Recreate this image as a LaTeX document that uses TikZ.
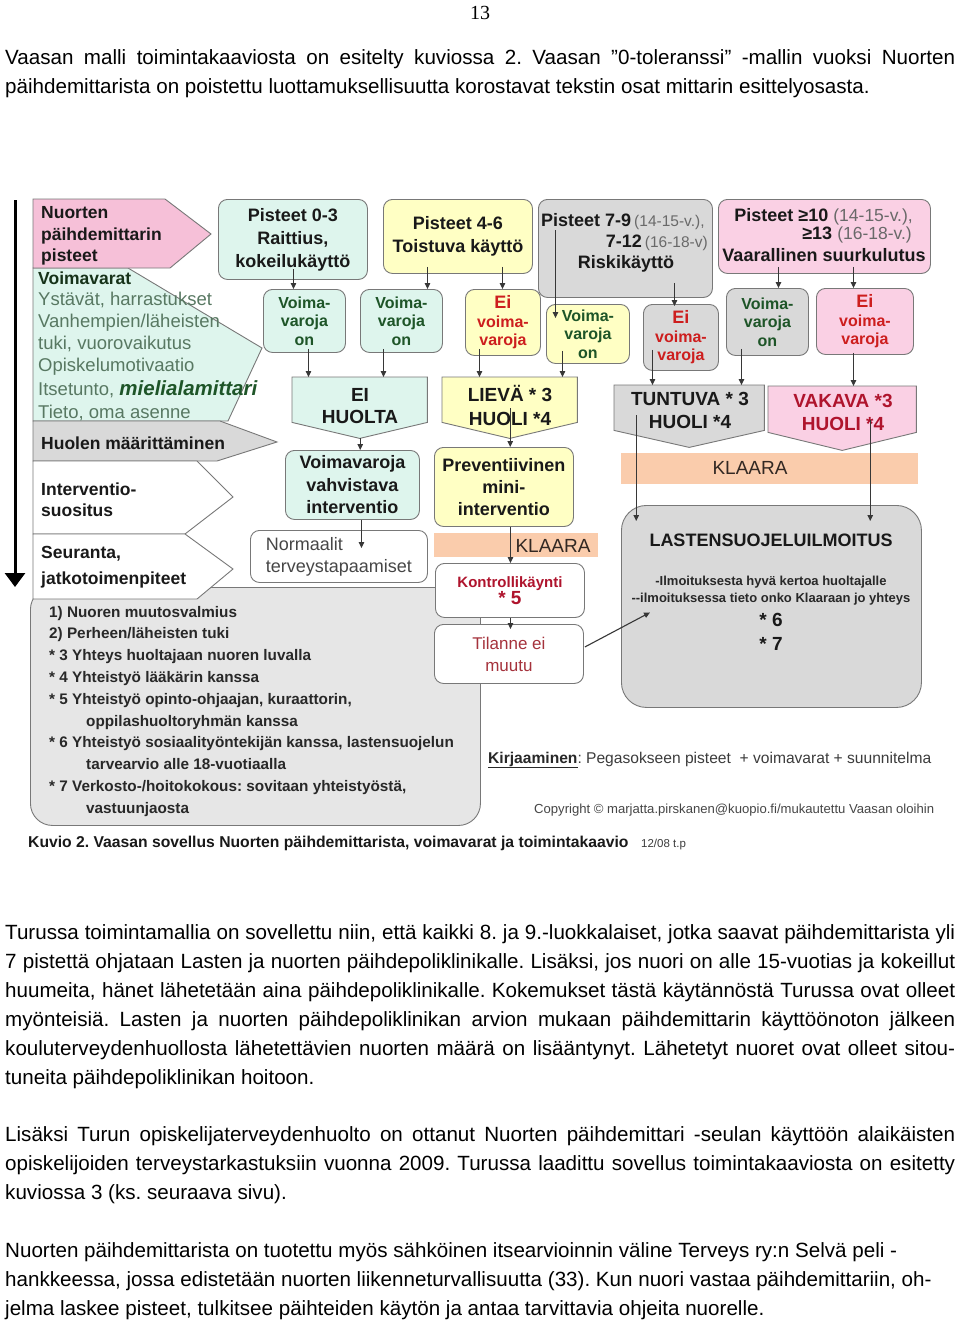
\documentclass[tikz,border=0pt]{standalone}
\usepackage{fontspec}
\setmainfont{Liberation Sans}
\newfontfamily\pagenumfont{Liberation Serif}
\usetikzlibrary{arrows.meta,calc}
\newcommand\myfs[2]{\fontsize{#1pt}{#2pt}\selectfont}
\frenchspacing
\definecolor{mint}{RGB}{222,245,237}
\definecolor{lyellow}{RGB}{255,255,196}
\definecolor{lgray}{RGB}{217,217,217}
\definecolor{lgrayB}{RGB}{230,230,230}
\definecolor{pinkA}{RGB}{246,192,216}
\definecolor{pinkB}{RGB}{250,208,228}
\definecolor{peach}{RGB}{250,204,172}
\definecolor{bordergray}{RGB}{120,120,120}
\definecolor{arrowgray}{RGB}{55,55,55}
\definecolor{dgreen}{RGB}{30,85,40}
\definecolor{grtext}{RGB}{88,120,98}
\definecolor{vvhead}{RGB}{22,50,25}
\definecolor{eired}{RGB}{205,30,30}
\definecolor{dred}{RGB}{175,20,45}
\definecolor{tilred}{RGB}{165,50,60}
\definecolor{txt}{RGB}{25,25,25}
\definecolor{partgray}{RGB}{105,105,105}
\definecolor{listtext}{RGB}{40,40,40}
\begin{document}
\begin{tikzpicture}[x=1pt,y=-1pt,
  body/.style={anchor=base west, inner sep=0pt, font=\myfs{20.6}{29}},
  rbox/.style={draw=bordergray, line width=0.9pt, rounded corners=9pt, anchor=north west, inner sep=0pt, align=center, text=txt},
  vbox/.style={rbox, font=\myfs{16}{18.5}\bfseries},
  arr/.style={draw=arrowgray, line width=1.1pt, -{Triangle[length=6pt,width=5.5pt]}},
  shp/.style={draw=bordergray, line width=0.9pt},
  lt/.style={anchor=base west, inner sep=0pt},
  ct/.style={anchor=base, inner sep=0pt},
  pentb/.style={minimum width=#1, anchor=north west, inner sep=0pt},
  lst/.style={anchor=base west, inner sep=0pt, font=\myfs{15.3}{18}\bfseries, text=listtext},
  lhead/.style={anchor=base west, inner sep=0pt, font=\myfs{17.5}{21}\bfseries, text=txt},
  vvl/.style={anchor=base west, inner sep=0pt, font=\myfs{18.5}{22}, text=grtext},
]
\useasboundingbox (0,0) rectangle (960,1323);
\fill[white] (0,0) rectangle (960,1323);

% page number
\node[ct, font=\pagenumfont\myfs{20}{24}] (pnum) at (480,19) {13};

% top paragraph
\node[body] (b1) at (5,64) {\makebox[950pt][s]{Vaasan malli toimintakaaviosta on esitelty kuviossa 2. Vaasan ”0-toleranssi” -mallin vuoksi Nuorten}};
\node[body] (b2) at (5,93) {päihdemittarista on poistettu luottamuksellisuutta korostavat tekstin osat mittarin esittelyosasta.};

% ---------------- diagram ----------------
% bottom-left list box
\node[draw=bordergray, line width=0.9pt, fill=lgrayB, rounded corners=22pt, minimum width=450pt, minimum height=238pt, anchor=north west, inner sep=0pt] (listbox) at (30,587) {};

% left column shapes
\filldraw[shp, fill=mint] (33,268) -- (128,268) -- (262,348) -- (228,421) -- (33,421) -- cycle;
\filldraw[shp, fill=pinkA] (33,199) -- (165,199) -- (211,234) -- (170,268) -- (33,268) -- cycle;
\filldraw[shp, fill=lgray] (33,421) -- (220,421) -- (277,442) -- (217,461) -- (33,461) -- cycle;
\filldraw[shp, fill=white] (33,461) -- (197,461) -- (233,497) -- (185,534) -- (33,534) -- cycle;
\filldraw[shp, fill=white] (33,534) -- (185,534) -- (233,569) -- (197,599) -- (33,599) -- cycle;

% left column texts
\node[lhead] (nu1) at (41,218) {Nuorten};
\node[lhead] (nu2) at (41,240) {päihdemittarin};
\node[lhead] (nu3) at (41,261) {pisteet};
\node[lhead, text=vvhead] (vv0) at (38,284) {Voimavarat};
\node[vvl] (vv1) at (38,305) {Ystävät, harrastukset};
\node[vvl] (vv2) at (38,327) {Vanhempien/läheisten};
\node[vvl] (vv3) at (38,349) {tuki, vuorovaikutus};
\node[vvl] (vv4) at (38,371) {Opiskelumotivaatio};
\node[vvl] (vv5) at (38,395) {Itsetunto, {\color{dgreen}\myfs{20.5}{22}\bfseries\itshape mielialamittari}};
\node[vvl] (vv6) at (38,418) {Tieto, oma asenne};
\node[lhead] (huo) at (41,449) {Huolen määrittäminen};
\node[lhead] (int1) at (41,495) {Interventio-};
\node[lhead] (int2) at (41,516) {suositus};
\node[lhead] (seu1) at (41,558) {Seuranta,};
\node[lhead] (seu2) at (41,584) {jatkotoimenpiteet};

% left time arrow
\coordinate (ltop) at (15,200);
\coordinate (lbot) at (15,587);
\draw[line width=3pt, -{Triangle[length=14pt,width=20pt]}] (ltop) -- (lbot);

% list text
\node[lst] (l1) at (49,617) {1) Nuoren muutosvalmius};
\node[lst] (l2) at (49,638.8) {2) Perheen/läheisten tuki};
\node[lst] (l3) at (49,660.6) {* 3 Yhteys huoltajaan nuoren luvalla};
\node[lst] (l4) at (49,682.4) {* 4 Yhteistyö lääkärin kanssa};
\node[lst] (l5) at (49,704.2) {* 5 Yhteistyö opinto-ohjaajan, kuraattorin,};
\node[lst] (l6) at (86,726) {oppilashuoltoryhmän kanssa};
\node[lst] (l7) at (49,747.8) {* 6 Yhteistyö sosiaalityöntekijän kanssa, lastensuojelun};
\node[lst] (l8) at (86,769.6) {tarvearvio alle 18-vuotiaalla};
\node[lst] (l9) at (49,791.4) {* 7 Verkosto-/hoitokokous: sovitaan yhteistyöstä,};
\node[lst] (l10) at (86,813.2) {vastuunjaosta};

% top score boxes
\node[rbox, fill=mint, minimum width=149pt, minimum height=80pt, font=\myfs{18}{23}\bfseries] (p03) at (218,199) {Pisteet 0-3\\Raittius,\\kokeilukäyttö};
\node[rbox, fill=lyellow, minimum width=149pt, minimum height=74pt, font=\myfs{18}{23}\bfseries] (p46) at (383,199) {Pisteet 4-6\\Toistuva käyttö};
\node[rbox, fill=lgray, minimum width=174pt, minimum height=98pt] (p79) at (538,199) {};
\node[anchor=base west, inner sep=0pt, font=\myfs{18}{22}\bfseries, text=txt] (p79a) at (541,226) {Pisteet 7-9\,{\mdseries\myfs{15.5}{18}\color{partgray}(14-15-v.),}};
\node[anchor=base east, inner sep=0pt, font=\myfs{18}{22}\bfseries, text=txt] (p79b) at (708,247) {7-12\,{\mdseries\myfs{15.5}{18}\color{partgray}(16-18-v)}};
\node[ct, font=\myfs{18}{22}\bfseries, text=txt] (p79c) at (626,268) {Riskikäyttö};
\node[rbox, fill=pinkB, minimum width=212pt, minimum height=74pt] (p10) at (718,199) {};
\node[anchor=base east, inner sep=0pt, font=\myfs{18}{22}\bfseries, text=txt] (p10a) at (913,221) {Pisteet ≥10 {\mdseries\myfs{17.5}{18}\color{partgray}(14-15-v.),}};
\node[anchor=base east, inner sep=0pt, font=\myfs{18}{22}\bfseries, text=txt] (p10b) at (912,239) {≥13 {\mdseries\myfs{17.5}{18}\color{partgray}(16-18-v.)}};
\node[ct, font=\myfs{18}{22}\bfseries, text=txt] (p10c) at (824,261) {Vaarallinen suurkulutus};

% voimavarat boxes
\node[vbox, fill=mint, minimum width=82pt, minimum height=63pt, text=dgreen] (v1) at (263,289) {Voima-\\varoja\\on};
\node[vbox, fill=mint, minimum width=82pt, minimum height=63pt, text=dgreen] (v2) at (360,289) {Voima-\\varoja\\on};
\node[vbox, fill=lyellow, minimum width=75pt, minimum height=66pt, text=eired] (v3) at (465,289) {{\myfs{18}{18.5}Ei}\\voima-\\varoja};
\node[vbox, fill=lyellow, minimum width=83pt, minimum height=59pt, text=dgreen] (v4) at (546,304) {Voima-\\varoja\\on};
\node[vbox, fill=lgray, minimum width=75pt, minimum height=66pt, text=eired] (v5) at (643,304) {{\myfs{18}{18.5}Ei}\\voima-\\varoja};
\node[vbox, fill=lgray, minimum width=82pt, minimum height=67pt, text=dgreen] (v6) at (726,288) {Voima-\\varoja\\on};
\node[vbox, fill=pinkB, minimum width=97pt, minimum height=66pt, text=eired] (v7) at (816,288) {{\myfs{18}{18.5}Ei}\\voima-\\varoja};

% concern pentagons
\node[pentb=135pt, minimum height=45pt] (ehb) at (292,377) {};
\filldraw[shp, fill=mint] (ehb.north west) -- (ehb.north east) -- (ehb.south east) -- ($(ehb.south)+(0,16)$) -- (ehb.south west) -- cycle;
\node[align=center, font=\myfs{19}{22.5}\bfseries, text=txt] (eh) at (360,406) {EI\\HUOLTA};
\node[pentb=135pt, minimum height=45pt] (lvb) at (442,377) {};
\filldraw[shp, fill=lyellow] (lvb.north west) -- (lvb.north east) -- (lvb.south east) -- ($(lvb.south)+(0,16)$) -- (lvb.south west) -- cycle;
\node[align=center, font=\myfs{19}{24}\bfseries, text=txt] (lv) at (510,405) {LIEVÄ * 3\\HUOLI *4};
\node[pentb=150pt, minimum height=45pt] (tub) at (614,385) {};
\filldraw[shp, fill=lgray] (tub.north west) -- (tub.north east) -- (tub.south east) -- ($(tub.south)+(0,17)$) -- (tub.south west) -- cycle;
\node[align=center, font=\myfs{19}{23}\bfseries, text=txt] (tu) at (690,410) {TUNTUVA * 3\\HUOLI *4};
\node[pentb=148pt, minimum height=46pt] (vkb) at (768,386) {};
\filldraw[shp, fill=pinkB] (vkb.north west) -- (vkb.north east) -- (vkb.south east) -- ($(vkb.south)+(0,18)$) -- (vkb.south west) -- cycle;
\node[align=center, font=\myfs{19}{23}\bfseries, text=dred] (vk) at (843,412) {VAKAVA *3\\HUOLI *4};

% interventions
\node[rbox, fill=mint, minimum width=134pt, minimum height=69pt, font=\myfs{18}{22.5}\bfseries] (vvi) at (285,450) {Voimavaroja\\vahvistava\\interventio};
\node[rbox, fill=lyellow, minimum width=139pt, minimum height=79pt, font=\myfs{18}{22}\bfseries] (prev) at (434,447) {Preventiivinen\\mini-\\interventio};
\node[rbox, fill=white, minimum width=177pt, minimum height=52pt, align=left, font=\myfs{18}{22}, text={rgb,255:red,70;green,70;blue,70}] (norm) at (250,530) {Normaalit\\terveystapaamiset};

% KLAARA bars
\node[fill=peach, minimum width=297pt, minimum height=31pt, anchor=north west, inner sep=0pt] (kl1) at (621,453) {};
\node[font=\myfs{19}{22}, text={rgb,255:red,50;green,40;blue,35}, inner sep=0pt] (kl1t) at (750,468) {KLAARA};
\node[fill=peach, minimum width=164pt, minimum height=24pt, anchor=north west, inner sep=0pt] (kl2) at (434,533) {};
\node[font=\myfs{19}{22}, text={rgb,255:red,50;green,40;blue,35}, inner sep=0pt] (kl2t) at (553,546) {KLAARA};

% follow-up boxes
\node[rbox, fill=white, minimum width=149pt, minimum height=54pt, font=\bfseries, text=dred] (kont) at (435,563) {{\myfs{15}{20}Kontrollikäynti}\\{\myfs{19}{21}* 5}};
\node[rbox, fill=white, minimum width=149pt, minimum height=59pt, font=\myfs{17}{22}, text=tilred] (til) at (434,624) {Tilanne ei\\muutu};

% child protection box
\node[rbox, fill=lgray, rounded corners=25pt, minimum width=300pt, minimum height=202pt] (lsi) at (621,505) {};
\node[ct, font=\myfs{18}{22}\bfseries, text=txt] (lsi1) at (771,546) {LASTENSUOJELUILMOITUS};
\node[ct, font=\myfs{13}{15}\bfseries, text=listtext] (lsi2) at (771,585) {-Ilmoituksesta hyvä kertoa huoltajalle};
\node[ct, font=\myfs{13}{15}\bfseries, text=listtext] (lsi3) at (771,602) {-{}-ilmoituksessa tieto onko Klaaraan jo yhteys};
\node[ct, font=\myfs{19}{22}\bfseries, text=txt] (lsi4) at (771,626) {* 6};
\node[ct, font=\myfs{19}{22}\bfseries, text=txt] (lsi5) at (771,650) {* 7};

% notes
\node[lt, font=\myfs{15.6}{18}, text={rgb,255:red,60;green,60;blue,60}] (kirj) at (488,763) {{\bfseries\color{listtext}\underline{Kirjaaminen}}: Pegasokseen pisteet \ + voimavarat + suunnitelma};
\node[lt, font=\myfs{13.1}{15}, text={rgb,255:red,70;green,70;blue,70}] (copy) at (534,813) {Copyright © marjatta.pirskanen@kuopio.fi/mukautettu Vaasan oloihin};
\node[lt, font=\myfs{15.7}{18}\bfseries, text=txt] (capt) at (28,847) {Kuvio 2. Vaasan sovellus Nuorten päihdemittarista, voimavarat ja toimintakaavio};
\node[lt, font=\myfs{11.5}{14}, text={rgb,255:red,60;green,60;blue,60}] (capd) at (641,847) {12/08 t.p};

% connectors
\draw[arr] ($(p03.south)+(0.5,-11)$) -- ($(p03.south |- v1.north)+(0.5,0)$);
\draw[arr] ($(p46.south)+(-30.5,-7)$) -- ($(p46.south |- v2.north)+(-30.5,0)$);
\draw[arr] ($(p46.south)+(44.5,-7)$) -- ($(p46.south |- v3.north)+(44.5,0)$);
\draw[arr] ($(p79.north)+(-70,31)$) -- ($(p79.north |- v4.north)+(-70,14)$);
\draw[arr] ($(p79.south)+(49,-15)$) -- ($(p79.south |- v5.north)+(49,2)$);
\draw[arr] ($(p10.south)+(-46,-7)$) -- ($(p10.south |- v6.north)+(-46,0)$);
\draw[arr] ($(p10.south)+(29,-7)$) -- ($(p10.south |- v7.north)+(29,0)$);
\draw[arr] ($(v1.south)+(4,-4)$) -- ($(v1.south |- ehb.north)+(4,0)$);
\draw[arr] ($(v2.south)+(-18,-4)$) -- ($(v2.south |- ehb.north)+(-18,0)$);
\draw[arr] ($(v3.south)+(-23.5,-7)$) -- ($(v3.south |- lvb.north)+(-23.5,0)$);
\draw[arr] ($(v4.south)+(-25.5,-13)$) -- ($(v4.south |- lvb.north)+(-25.5,0)$);
\draw[arr] ($(v5.south)+(-28.5,-21)$) -- ($(v5.south |- tub.north)+(-28.5,0)$);
\draw[arr] ($(v6.south)+(-26,-7)$) -- ($(v6.south |- tub.north)+(-26,0)$);
\draw[arr] ($(v7.south)+(-11.5,-2)$) -- ($(v7.south |- vkb.north)+(-11.5,0)$);
\draw[arr] ($(ehb.south)+(0.5,16)$) -- ($(ehb.south |- vvi.north)+(0.5,0)$);
\draw[arr] ($(lvb.south)+(0.5,-14)$) -- ($(lvb.south |- prev.north)+(0.5,0)$);
\draw[arr] ($(vvi.south)+(9,0)$) -- ($(vvi.south |- norm.north)+(9,18)$);
\draw[arr] ($(prev.south)+(6.5,0)$) -- ($(prev.south |- kont.north)+(6.5,0)$);
\draw[arr] ($(kont.south)+(0.5,0)$) -- ($(kont.south |- til.north)+(0.5,5)$);
\draw[arr] ($(til.east)+(1,-7)$) -- ($(lsi.west)+(29,6)$);
\draw[arr] ($(tub.south)+(-53,-15)$) -- ($(tub.south |- lsi.north)+(-53,16)$);
\draw[arr] ($(vkb.south)+(28,-12)$) -- ($(vkb.south |- lsi.north)+(28,16)$);

% ---------------- bottom paragraphs ----------------
\node[body] (c1) at (5,939) {\makebox[950pt][s]{Turussa toimintamallia on sovellettu niin, että kaikki 8. ja 9.-luokkalaiset, jotka saavat päihdemittarista yli}};
\node[body] (c2) at (5,968) {\makebox[950pt][s]{7 pistettä ohjataan Lasten ja nuorten päihdepoliklinikalle. Lisäksi, jos nuori on alle 15-vuotias ja kokeillut}};
\node[body] (c3) at (5,997) {\makebox[950pt][s]{huumeita, hänet lähetetään aina päihdepoliklinikalle. Kokemukset tästä käytännöstä Turussa ovat olleet}};
\node[body] (c4) at (5,1026) {\makebox[950pt][s]{myönteisiä. Lasten ja nuorten päihdepoliklinikan arvion mukaan päihdemittarin käyttöönoton jälkeen}};
\node[body] (c5) at (5,1055) {\makebox[950pt][s]{kouluterveydenhuollosta lähetettävien nuorten määrä on lisääntynyt. Lähetetyt nuoret ovat olleet sitou-}};
\node[body] (c6) at (5,1084) {tuneita päihdepoliklinikan hoitoon.};
\node[body] (d1) at (5,1141) {\makebox[950pt][s]{Lisäksi Turun opiskelijaterveydenhuolto on ottanut Nuorten päihdemittari -seulan käyttöön alaikäisten}};
\node[body] (d2) at (5,1170) {\makebox[950pt][s]{opiskelijoiden terveystarkastuksiin vuonna 2009. Turussa laadittu sovellus toimintakaaviosta on esitetty}};
\node[body] (d3) at (5,1199) {kuviossa 3 (ks. seuraava sivu).};
\node[body] (e1) at (5,1257) {Nuorten päihdemittarista on tuotettu myös sähköinen itsearvioinnin väline Terveys ry:n Selvä peli -};
\node[body] (e2) at (5,1286) {hankkeessa, jossa edistetään nuorten liikenneturvallisuutta (33). Kun nuori vastaa päihdemittariin, oh-};
\node[body] (e3) at (5,1315) {jelma laskee pisteet, tulkitsee päihteiden käytön ja antaa tarvittavia ohjeita nuorelle.};
\end{tikzpicture}
\end{document}
